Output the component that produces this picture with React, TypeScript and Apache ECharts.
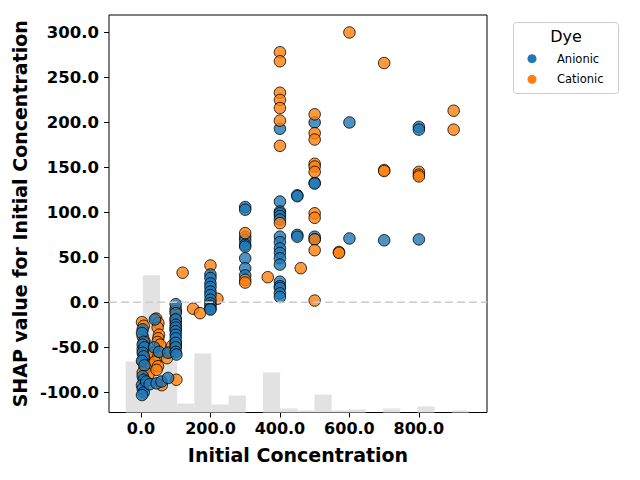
import React, { useEffect, useRef } from "react";
import * as echarts from "echarts";

const xTicks = [0, 200, 400, 600, 800];
const yTicks = [-100, -50, 0, 50, 100, 150, 200, 250, 300];
const xMin = -92;
const xMax = 996;
const yMin = -122.4;
const yMax = 319.4;

// background histogram of Initial Concentration (bin edges, relative heights)
const histEdges = [-44, 5.4, 54.8, 104.2, 153.6, 203, 252.4, 301.8, 351.2, 400.6, 450, 499.4, 548.8, 598.2, 647.6, 697, 746.4, 795.8, 845.2, 894.6, 944];
const histHeights = [51, 137, 51, 9, 59, 8, 17, 0, 40, 4, 2, 18, 2, 3, 0, 4, 0, 6, 0, 2];
const histMax = 397;

// Anionic dyes, low concentrations (drawn over the low cationic points)
const anionicLow: number[][] = [
  [5, -30], [3, -34], [8, -44], [5, -47], [10, -50], [5, -56], [8, -60], [3, -65], [10, -70],
  [5, -82], [8, -86], [3, -92], [5, -96], [8, -100], [3, -103],
  [15, -88], [25, -91], [40, -19], [38, -50], [45, -90], [59, -88], [52, -55], [78, -84], [78, -56],
  [100, -2], [100, -12], [100, -19], [100, -25], [100, -28], [100, -32], [100, -36], [100, -40], [100, -45], [100, -50], [100, -55], [102, -58],
  [200, 31], [200, 27], [200, 21], [200, 17], [200, 12], [200, 8], [200, 3], [200, -1], [200, -4], [200, -7], [200, -8],
];

// Anionic dyes, higher concentrations
const anionicHigh: number[][] = [
  [300, 106], [300, 103], [300, 73], [300, 69], [300, 64], [300, 62], [300, 49], [300, 38], [300, 30],
  [400, 193], [400, 112], [400, 101], [400, 99], [400, 96], [400, 92], [400, 73], [400, 67], [400, 60], [400, 55], [400, 49], [400, 42], [400, 23], [400, 18], [400, 16], [400, 10], [400, 6],
  [450, 119], [450, 118], [450, 75], [450, 73],
  [500, 200], [500, 133], [500, 132], [500, 73], [500, 70],
  [600, 200], [600, 71], [700, 69], [800, 195], [800, 192], [800, 70],
];

// Cationic dyes, low concentrations
const cationicLow: number[][] = [
  [3, -22], [8, -26], [5, -38], [10, -43], [5, -52], [8, -58], [12, -62], [5, -66], [10, -74], [5, -78],
  [20, -57], [25, -60], [30, -70], [22, -80],
  [44, -18], [50, -23], [48, -28], [52, -36], [50, -40], [48, -44], [55, -47], [35, -56], [50, -60], [40, -66], [49, -71], [45, -75], [60, -92],
  [75, -62], [85, -55], [90, -48],
  [100, -7], [100, -10], [100, -18], [100, -22], [100, -30], [100, -45], [100, -49], [102, -86],
  [120, 33], [150, -7], [170, -12], [200, 41], [220, 4],
];

// Cationic dyes, higher concentrations
const cationicHigh: number[][] = [
  [300, 77], [300, 25], [300, 22], [365, 28],
  [400, 278], [400, 268], [400, 233], [400, 225], [400, 216], [400, 202], [400, 174], [400, 88],
  [460, 38],
  [500, 209], [500, 188], [500, 181], [500, 154], [500, 151], [500, 145], [500, 99], [500, 94], [500, 70], [500, 58], [500, 2],
  [570, 56], [570, 55], [600, 300],
  [700, 266], [700, 147], [700, 146],
  [800, 145], [800, 142], [800, 140],
  [900, 213], [900, 192],
];

const BLUE = "#1f77b4";
const ORANGE = "#ff7f0e";
const FONT = "DejaVu Sans";

export default function App() {
  const ref = useRef<HTMLDivElement>(null);
  useEffect(() => {
    const chart = echarts.init(ref.current!, null, { renderer: "svg" });
    const histData = histHeights.map((h, i) => [histEdges[i], histEdges[i + 1], h]);
    const scatter = (name: string, data: number[][], color: string) => ({
      name,
      type: "scatter",
      data,
      symbolSize: 11.5,
      itemStyle: { color, opacity: 0.8, borderColor: "#000", borderWidth: 1 },
    });
    chart.setOption({
      animation: false,
      textStyle: { fontFamily: FONT },
      grid: {
        left: 109,
        top: 15,
        width: 378,
        height: 397.5,
        show: true,
        borderColor: "#000",
        borderWidth: 1,
        backgroundColor: "transparent",
      },
      xAxis: {
        type: "value",
        min: xMin,
        max: xMax,
        name: "Initial Concentration",
        nameLocation: "middle",
        nameGap: 33,
        nameTextStyle: { fontFamily: FONT, fontWeight: "bold", fontSize: 19, color: "#000" },
        axisLine: { show: false, onZero: false },
        splitLine: { show: false },
        axisTick: { show: true, customValues: xTicks, length: 5, lineStyle: { color: "#000", width: 1 } },
        axisLabel: {
          customValues: xTicks,
          formatter: (v: number) => v.toFixed(1),
          fontFamily: FONT,
          fontWeight: "bold",
          fontSize: 16,
          color: "#000",
          margin: 8,
        },
      },
      yAxis: [
        {
          type: "value",
          min: yMin,
          max: yMax,
          name: "SHAP value for Initial Concentration",
          nameLocation: "middle",
          nameGap: 76,
          nameTextStyle: { fontFamily: FONT, fontWeight: "bold", fontSize: 19, color: "#000" },
          axisLine: { show: false, onZero: false },
          splitLine: { show: false },
          axisTick: { show: true, customValues: yTicks, length: 5, lineStyle: { color: "#000", width: 1 } },
          axisLabel: {
            customValues: yTicks,
            formatter: (v: number) => v.toFixed(1),
            fontFamily: FONT,
            fontWeight: "bold",
            fontSize: 16.5,
            color: "#000",
            margin: 10,
          },
        },
        {
          type: "value",
          min: 0,
          max: histMax,
          show: false,
        },
      ],
      series: [
        {
          type: "custom",
          xAxisIndex: 0,
          yAxisIndex: 1,
          encode: { x: [0, 1], y: 2 },
          data: histData,
          silent: true,
          renderItem: (params: any, api: any) => {
            const p0 = api.coord([api.value(0), api.value(2)]);
            const p1 = api.coord([api.value(1), 0]);
            return {
              type: "rect",
              shape: { x: p0[0], y: p0[1], width: p1[0] - p0[0], height: p1[1] - p0[1] },
              style: { fill: "#e2e2e2" },
            };
          },
        },
        {
          type: "line",
          data: [[xMin, 0], [xMax, 0]],
          symbol: "none",
          silent: true,
          lineStyle: { color: "#cccccc", width: 1.5, type: [8, 4] },
        },
        scatter("Cationic", cationicLow, ORANGE),
        scatter("Anionic", anionicLow, BLUE),
        scatter("Anionic", anionicHigh, BLUE),
        scatter("Cationic", cationicHigh, ORANGE),
      ],
      graphic: [
        {
          type: "rect",
          shape: { x: 513.5, y: 22.5, width: 105, height: 71, r: 3 },
          style: { fill: "#fff", stroke: "#cccccc", lineWidth: 1 },
        },
        {
          type: "text",
          style: { text: "Dye", x: 566, y: 36, align: "center", verticalAlign: "middle", fontFamily: FONT, fontSize: 16, fill: "#000" },
        },
        { type: "circle", shape: { cx: 532, cy: 58.7, r: 4.5 }, style: { fill: BLUE } },
        { type: "circle", shape: { cx: 532, cy: 79.3, r: 4.5 }, style: { fill: ORANGE } },
        {
          type: "text",
          style: { text: "Anionic", x: 557, y: 58.7, verticalAlign: "middle", fontFamily: FONT, fontSize: 11.5, fill: "#000" },
        },
        {
          type: "text",
          style: { text: "Cationic", x: 557, y: 79.3, verticalAlign: "middle", fontFamily: FONT, fontSize: 11.5, fill: "#000" },
        },
      ],
    });
    return () => chart.dispose();
  }, []);
  return <div ref={ref} style={{ position: "absolute", left: 0, top: 0, width: 640, height: 480 }} />;
}
